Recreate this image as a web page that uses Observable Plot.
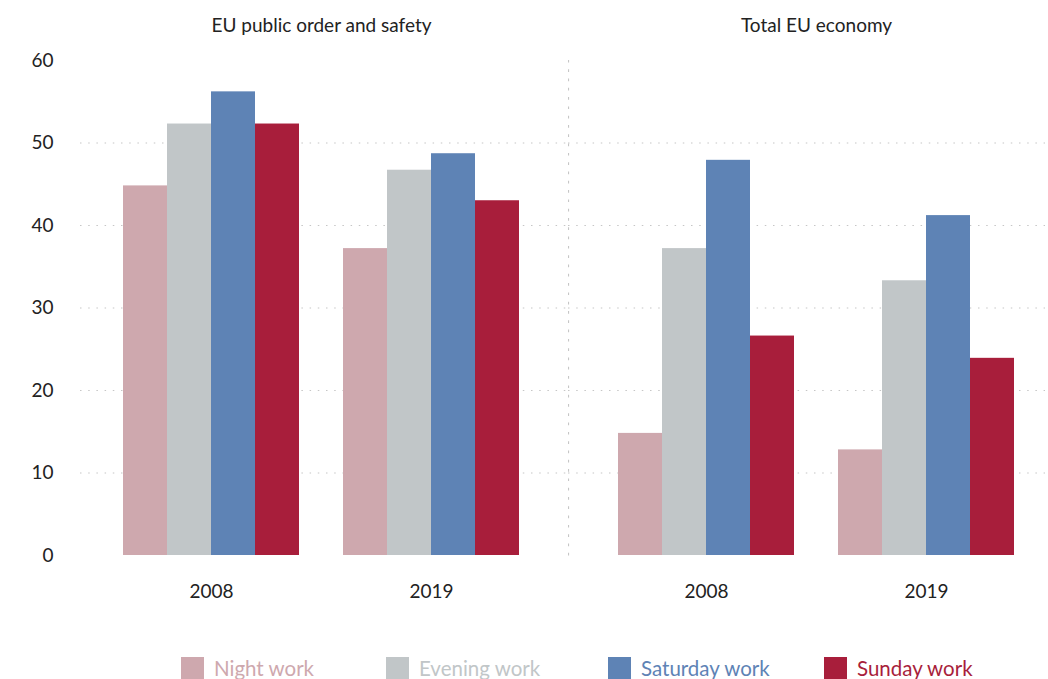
<!DOCTYPE html>
<html>
<head>
<meta charset="utf-8">
<script src="https://cdn.jsdelivr.net/npm/d3@7"></script>
<script src="https://cdn.jsdelivr.net/npm/@observablehq/plot@0.6"></script>
<style>
  html, body { margin: 0; padding: 0; background: #fff; }
  body { font-family: Lato, "Noto Sans", sans-serif; width: 1048px; height: 679px; overflow: hidden; }
  #row { display: flex; height: 640px; }
  #legend { display: flex; align-items: center; padding-left: 181px; margin-top: 16px; font-size: 20.5px; }
  .item { display: flex; align-items: center; }
  .item:nth-child(1) { width: 205px; }
  .item:nth-child(2) { width: 222px; }
  .item:nth-child(3) { width: 216px; }
  .sw { width: 23px; height: 23px; margin-right: 10px; }
</style>
</head>
<body>
<div id="row"></div>
<div id="legend"></div>
<script>
const panels = ["EU public order and safety", "Total EU economy"];
const years = ["2008", "2019"];
const series = ["Night work", "Evening work", "Saturday work", "Sunday work"];
const colors = ["#cea8ae", "#c1c6c8", "#5e83b5", "#a81e3b"];
const publicOrder2008 = [44.8, 52.3, 56.2, 52.3];
const publicOrder2019 = [37.2, 46.7, 48.7, 43.0];
const total2008 = [14.8, 37.2, 47.9, 26.6];
const total2019 = [12.8, 33.3, 41.2, 23.9];
const yTicks = [0, 10, 20, 30, 40, 50, 60];
const gridTicks = [10, 20, 30, 40, 50];

const GAP = "gap";
const keyOf = (y, s) => y + "|" + s;
const xDomain = [...series.map(s => keyOf(years[0], s)), GAP, ...series.map(s => keyOf(years[1], s))];

function rows(v2008, v2019) {
  const out = [];
  [v2008, v2019].forEach((vals, i) => {
    series.forEach((s, j) => out.push({year: years[i], series: s, key: keyOf(years[i], s), value: vals[j]}));
  });
  return out;
}

const gridStyle = {stroke: "#c6c6c6", strokeWidth: 1.2, strokeDasharray: "1.5,6.7"};

function panel(title, data, cfg) {
  const marks = [
    Plot.ruleY(gridTicks, gridStyle),
    Plot.barY(data, {x: "key", y: "value", fill: "series"}),
    Plot.text([title], {x: () => GAP, frameAnchor: "top", dy: -42, fontSize: 19, fill: "#222"}),
    Plot.text(years, {x: d => keyOf(d, series[1]), frameAnchor: "bottom", dy: 42, dx: 22, fontSize: 19, fill: "#222"})
  ];
  if (cfg.axis) {
    marks.push(Plot.axisY(yTicks, {tickSize: 0, tickPadding: 27, fontSize: 19, label: null, fill: "#222"}));
  } else {
    marks.push(Plot.frame({anchor: "left", stroke: "#c6c6c6", strokeWidth: 1.2, strokeDasharray: "1.5,7.8"}));
  }
  return Plot.plot({
    width: cfg.width,
    height: 640,
    marginTop: 60,
    marginBottom: 85,
    marginLeft: cfg.marginLeft,
    marginRight: cfg.marginRight,
    style: {fontFamily: "Lato, 'Noto Sans', sans-serif", fontSize: "19px", color: "#222", background: "#fff"},
    x: {domain: xDomain, paddingInner: 0, paddingOuter: cfg.paddingOuter, align: cfg.align, axis: null},
    y: {domain: [0, 60], axis: cfg.axis ? undefined : null},
    color: {domain: series, range: colors},
    marks
  });
}

const row = document.getElementById("row");
row.appendChild(panel(panels[0], rows(publicOrder2008, publicOrder2019),
  {width: 568, marginLeft: 80, marginRight: 0, paddingOuter: 1.03, align: 0.467, axis: true}));
row.appendChild(panel(panels[1], rows(total2008, total2019),
  {width: 480, marginLeft: 0, marginRight: 3, paddingOuter: 0.91, align: 0.617, axis: false}));

const legend = document.getElementById("legend");
series.forEach((s, i) => {
  const item = document.createElement("div");
  item.className = "item";
  const sw = document.createElement("div");
  sw.className = "sw";
  sw.style.background = colors[i];
  const label = document.createElement("span");
  label.textContent = s;
  label.style.color = colors[i];
  item.appendChild(sw);
  item.appendChild(label);
  legend.appendChild(item);
});
</script>
</body>
</html>
